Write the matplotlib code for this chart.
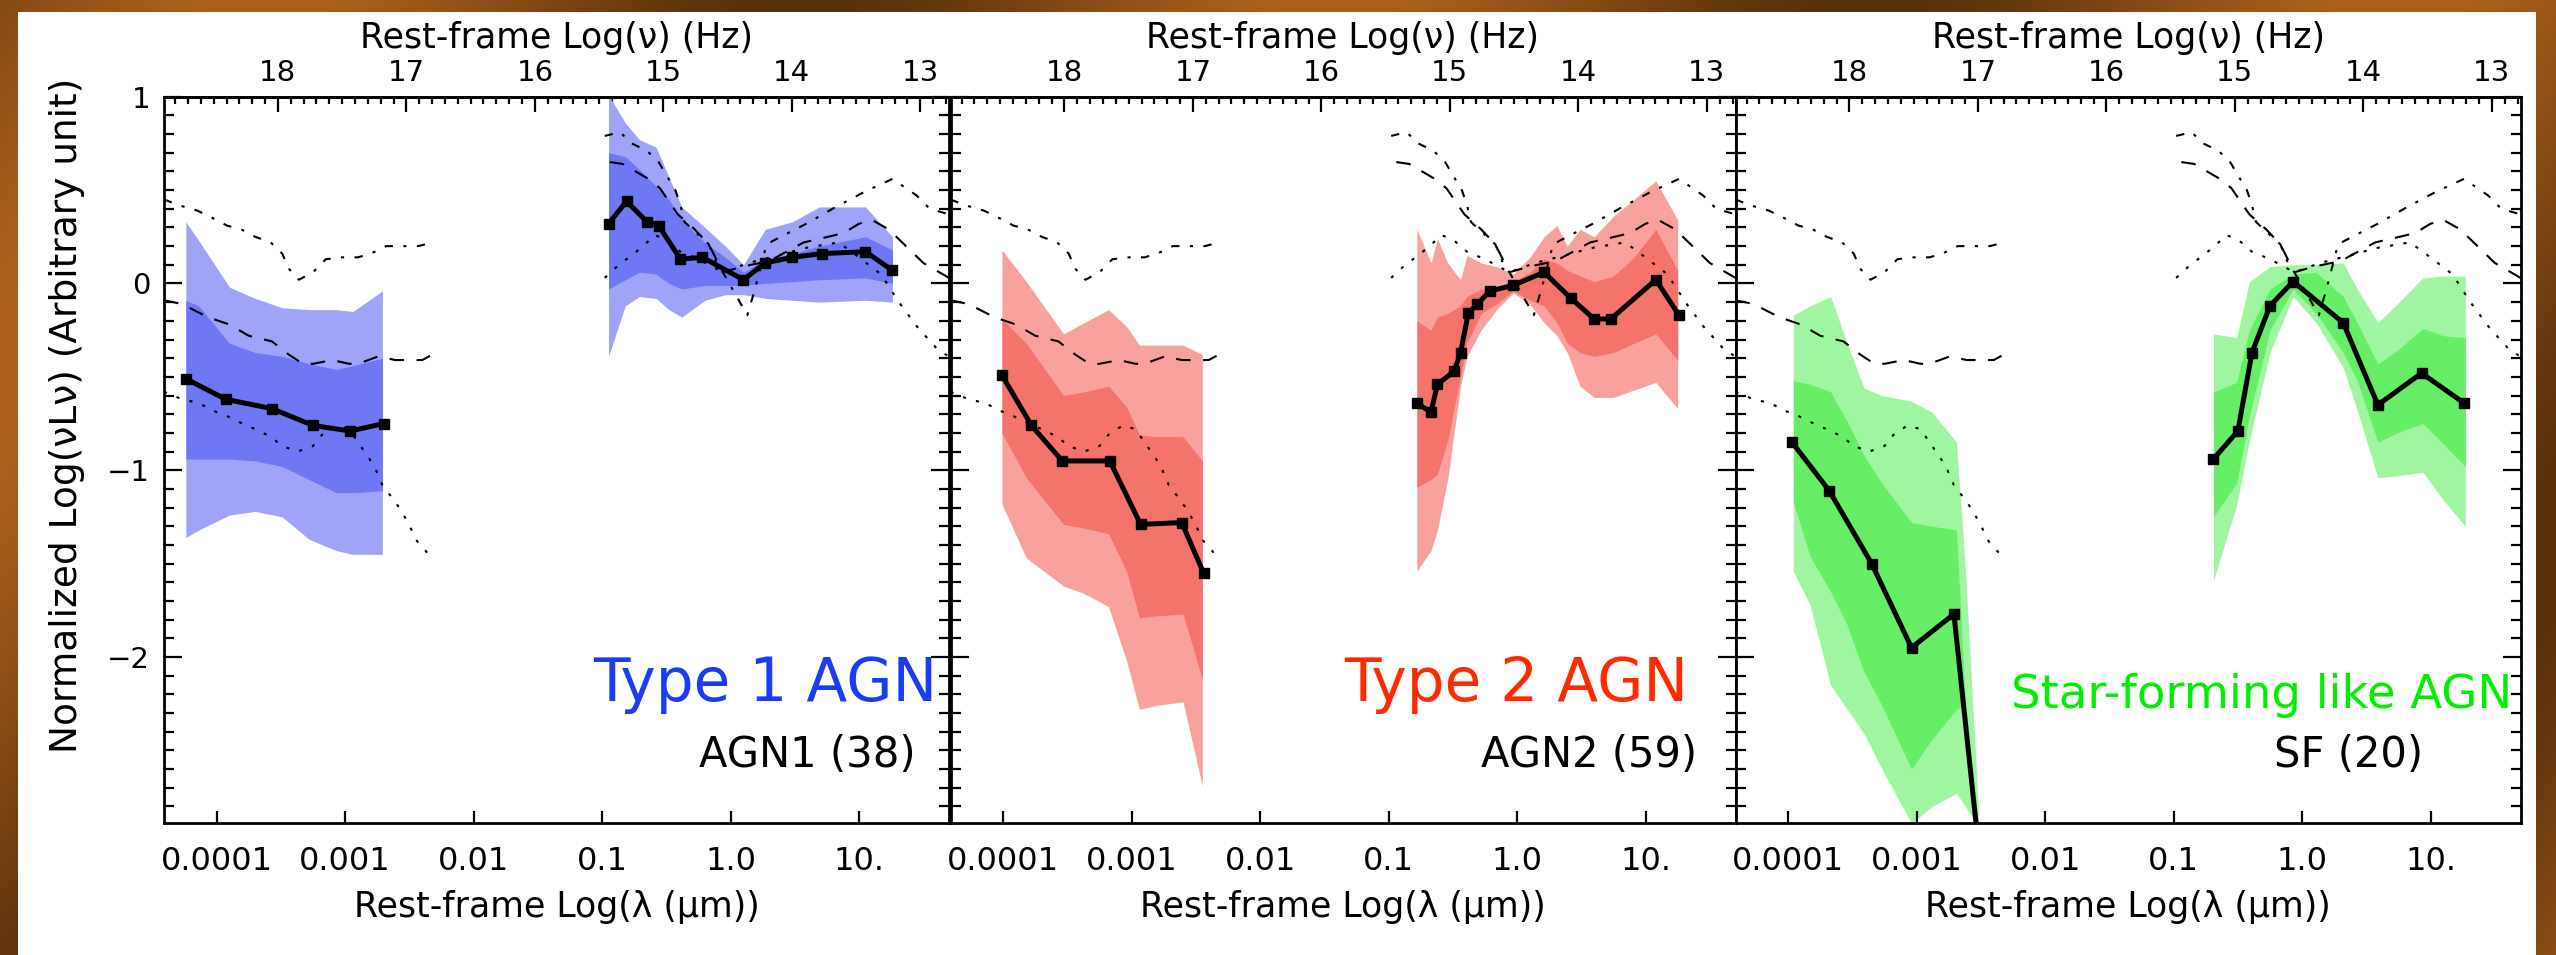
"""
Mean rest-frame SEDs of AGN1 / AGN2 / SF-like AGN with 1 and 2 sigma bands,
reference templates overplotted. Three panels sharing the y axis.
"""
import numpy as np
import matplotlib.pyplot as plt
from matplotlib.ticker import MultipleLocator, NullLocator

plt.rcParams['font.family'] = ['DejaVu Sans']

# x = rest-frame log(lambda / micron), y = normalised log(nu L_nu)

# ---- reference templates (same in every panel) ----
tx_a_x = [-4.41, -4.30, -4.15, -4.03, -3.92, -3.81, -3.70, -3.58, -3.49, -3.44, -3.36, -3.25,
          -3.15, -3.02, -2.90, -2.80, -2.68, -2.56, -2.43, -2.32]
tx_a_y = [0.45, 0.42, 0.39, 0.35, 0.31, 0.29, 0.25, 0.22, 0.16, 0.08, 0.02, 0.06,
          0.13, 0.14, 0.14, 0.16, 0.20, 0.20, 0.20, 0.22]
tx_b_x = [-4.41, -4.27, -4.07, -3.90, -3.75, -3.57, -3.44, -3.33, -3.25, -3.10, -2.97, -2.90,
          -2.74, -2.61, -2.40, -2.32]
tx_b_y = [-0.09, -0.11, -0.18, -0.22, -0.28, -0.31, -0.38, -0.43, -0.43, -0.41, -0.43, -0.43,
          -0.39, -0.41, -0.41, -0.38]
tx_c_x = [-4.41, -4.27, -4.14, -4.03, -3.92, -3.80, -3.70, -3.58, -3.49, -3.37, -3.25, -3.18,
          -3.07, -2.97, -2.89, -2.81, -2.76, -2.71, -2.62, -2.56, -2.49, -2.44, -2.35]
tx_c_y = [-0.58, -0.62, -0.64, -0.68, -0.71, -0.75, -0.78, -0.82, -0.87, -0.90, -0.87, -0.81,
          -0.76, -0.78, -0.86, -0.94, -1.00, -1.08, -1.16, -1.22, -1.31, -1.38, -1.45]

to_a_x = [-0.98, -0.86, -0.77, -0.65, -0.56, -0.50, -0.43, -0.39, -0.36, -0.25, -0.17, -0.11,
          -0.06, 0.13, 0.19, 0.28, 0.39, 0.59, 0.82, 1.04, 1.26, 1.45, 1.55, 1.70]
to_a_y = [0.79, 0.81, 0.75, 0.71, 0.65, 0.58, 0.50, 0.42, 0.33, 0.26, 0.21, 0.11,
          0.06, -0.17, -0.03, 0.21, 0.25, 0.32, 0.41, 0.49, 0.56, 0.47, 0.40, 0.37]
to_b_x = [-0.94, -0.84, -0.64, -0.55, -0.41, -0.28, -0.17, -0.06, 0.09, 0.30, 0.57, 0.76,
          0.88, 1.00, 1.10, 1.23, 1.50, 1.70]
to_b_y = [0.65, 0.64, 0.56, 0.51, 0.37, 0.29, 0.21, 0.06, 0.09, 0.12, 0.22, 0.25,
          0.27, 0.32, 0.34, 0.29, 0.11, 0.03]
to_c_x = [-0.98, -0.87, -0.77, -0.68, -0.59, -0.49, -0.39, -0.25, -0.06, 0.14, 0.37, 0.58,
          0.84, 0.96, 1.17, 1.31, 1.45, 1.62, 1.70]
to_c_y = [0.03, 0.10, 0.15, 0.20, 0.26, 0.23, 0.17, 0.13, 0.06, 0.11, 0.15, 0.19,
          0.22, 0.16, 0.05, -0.10, -0.23, -0.36, -0.39]

# ---- AGN1 ----
agn1_xr_x = [-4.24, -3.93, -3.57, -3.25, -2.96, -2.70]
agn1_xr_y = [-0.51, -0.62, -0.67, -0.76, -0.79, -0.75]
agn1_xr_bx = [-4.24, -4.14, -3.90, -3.70, -3.49, -3.28, -3.07, -2.94, -2.71]
agn1_xr_lt = [0.33, 0.23, -0.02, -0.08, -0.13, -0.14, -0.14, -0.15, -0.04]
agn1_xr_dt = [-0.09, -0.12, -0.32, -0.37, -0.39, -0.43, -0.46, -0.44, -0.40]
agn1_xr_db = [-0.94, -0.94, -0.94, -0.95, -0.98, -1.05, -1.12, -1.12, -1.11]
agn1_xr_lb = [-1.36, -1.32, -1.24, -1.22, -1.25, -1.37, -1.43, -1.45, -1.45]

agn1_op_x = [-0.95, -0.81, -0.65, -0.56, -0.39, -0.22, 0.10, 0.27, 0.48, 0.71, 1.05, 1.26]
agn1_op_y = [0.32, 0.44, 0.33, 0.31, 0.13, 0.14, 0.02, 0.11, 0.14, 0.16, 0.17, 0.07]
agn1_op_bx = [-0.95, -0.82, -0.71, -0.58, -0.48, -0.38, -0.20, -0.04, 0.10, 0.27, 0.48, 0.69, 1.05, 1.26]
agn1_op_lt = [1.01, 0.86, 0.77, 0.73, 0.57, 0.41, 0.30, 0.20, 0.10, 0.29, 0.33, 0.41, 0.41, 0.25]
agn1_op_dt = [0.70, 0.68, 0.61, 0.52, 0.45, 0.34, 0.22, 0.14, 0.06, 0.13, 0.16, 0.20, 0.25, 0.18]
agn1_op_db = [-0.03, 0.02, 0.06, 0.05, 0.00, -0.03, -0.01, -0.01, -0.01, 0.00, 0.01, 0.02, 0.03, 0.00]
agn1_op_lb = [-0.39, -0.12, -0.07, -0.08, -0.14, -0.18, -0.09, -0.06, -0.06, -0.08, -0.09, -0.10, -0.09, -0.10]

# ---- AGN2 ----
agn2_xr_x = [-4.01, -3.78, -3.54, -3.17, -2.93, -2.61, -2.44]
agn2_xr_y = [-0.49, -0.76, -0.95, -0.95, -1.29, -1.28, -1.55]
agn2_xr_bx = [-4.01, -3.82, -3.53, -3.37, -3.18, -3.04, -2.94, -2.82, -2.60, -2.45]
agn2_xr_lt = [0.18, 0.01, -0.27, -0.21, -0.14, -0.23, -0.33, -0.33, -0.33, -0.38]
agn2_xr_dt = [-0.19, -0.32, -0.60, -0.58, -0.55, -0.66, -0.81, -0.82, -0.82, -0.95]
agn2_xr_db = [-0.80, -1.04, -1.29, -1.31, -1.34, -1.54, -1.79, -1.78, -1.77, -2.12]
agn2_xr_lb = [-1.18, -1.47, -1.62, -1.66, -1.73, -2.02, -2.28, -2.26, -2.24, -2.69]

agn2_op_x = [-0.78, -0.67, -0.62, -0.49, -0.44, -0.38, -0.31, -0.21, -0.03, 0.21, 0.42, 0.60, 0.73, 1.08, 1.26]
agn2_op_y = [-0.64, -0.69, -0.54, -0.47, -0.37, -0.16, -0.11, -0.04, -0.01, 0.06, -0.08, -0.19, -0.19, 0.02, -0.17]
agn2_op_bx = [-0.78, -0.67, -0.62, -0.54, -0.44, -0.39, -0.28, -0.16, -0.03, 0.10, 0.21, 0.31, 0.39,
              0.49, 0.60, 0.75, 0.91, 1.08, 1.25]
agn2_op_lt = [0.29, 0.11, 0.24, 0.11, 0.02, 0.15, 0.11, 0.09, 0.05, 0.14, 0.25, 0.31, 0.20,
              0.29, 0.25, 0.36, 0.45, 0.55, 0.34]
agn2_op_dt = [-0.20, -0.25, -0.18, -0.16, -0.12, -0.07, -0.03, -0.02, 0.01, 0.06, 0.13, 0.11, 0.07,
              0.04, 0.01, 0.04, 0.14, 0.29, 0.07]
agn2_op_db = [-1.09, -1.05, -1.02, -0.84, -0.50, -0.32, -0.16, -0.11, -0.04, -0.09, -0.12, -0.21, -0.32,
              -0.37, -0.39, -0.37, -0.32, -0.27, -0.41]
agn2_op_lb = [-1.54, -1.43, -1.32, -1.05, -0.55, -0.39, -0.25, -0.14, -0.05, -0.11, -0.21, -0.28, -0.37,
              -0.55, -0.61, -0.61, -0.57, -0.53, -0.67]

# ---- SF-like ----
sf_xr_x = [-3.97, -3.68, -3.35, -3.04, -2.71, -2.49]
sf_xr_y = [-0.85, -1.11, -1.50, -1.95, -1.77, -3.20]
sf_xr_bx = [-3.96, -3.83, -3.67, -3.54, -3.41, -3.27, -3.04, -2.88, -2.69, -2.62, -2.52]
sf_xr_lt = [-0.17, -0.12, -0.07, -0.32, -0.56, -0.60, -0.63, -0.69, -0.85, -1.54, -2.80]
sf_xr_dt = [-0.52, -0.54, -0.58, -0.74, -0.92, -1.07, -1.28, -1.30, -1.32, -2.26, -2.80]
sf_xr_db = [-1.17, -1.46, -1.65, -1.83, -2.08, -2.26, -2.60, -2.44, -2.28, -2.26, -2.80]
sf_xr_lb = [-1.54, -1.72, -2.15, -2.28, -2.41, -2.60, -2.89, -2.80, -2.73, -2.80, -2.91]

sf_op_x = [-0.69, -0.50, -0.39, -0.25, -0.07, 0.32, 0.59, 0.93, 1.26]
sf_op_y = [-0.94, -0.79, -0.37, -0.12, 0.01, -0.21, -0.65, -0.48, -0.64]
sf_op_bx = [-0.69, -0.51, -0.41, -0.25, -0.07, 0.11, 0.32, 0.43, 0.59, 0.74, 0.94, 1.10, 1.27]
sf_op_lt = [-0.27, -0.29, 0.01, 0.09, 0.10, 0.10, 0.11, -0.03, -0.21, -0.11, 0.03, 0.04, 0.04]
sf_op_dt = [-0.58, -0.53, -0.25, -0.03, 0.05, 0.06, -0.07, -0.21, -0.43, -0.36, -0.24, -0.28, -0.29]
sf_op_db = [-1.25, -1.07, -0.71, -0.25, -0.03, -0.16, -0.37, -0.52, -0.85, -0.80, -0.75, -0.86, -0.98]
sf_op_lb = [-1.59, -1.19, -0.84, -0.37, -0.07, -0.21, -0.45, -0.68, -1.04, -1.03, -1.01, -1.16, -1.30]

xtick_pos = [-4, -3, -2, -1, 0, 1]
xtick_lab = ['0.0001', '0.001', '0.01', '0.1', '1.0', '10.']
nutick_pos = [13, 14, 15, 16, 17, 18]
LOG_C = 14.4768  # log10(c in micron/s)

panels = [
    dict(segs=[(agn1_xr_x, agn1_xr_y, agn1_xr_bx, agn1_xr_lt, agn1_xr_dt, agn1_xr_db, agn1_xr_lb),
               (agn1_op_x, agn1_op_y, agn1_op_bx, agn1_op_lt, agn1_op_dt, agn1_op_db, agn1_op_lb)],
         light='#a0a4f8', dark='#6e78f4', tcol='#1a3cf5', title='Type 1 AGN', tsize=43,
         tpos=(0.985, 0.167), name='AGN1 (38)', npos=(0.957, 0.077)),
    dict(segs=[(agn2_xr_x, agn2_xr_y, agn2_xr_bx, agn2_xr_lt, agn2_xr_dt, agn2_xr_db, agn2_xr_lb),
               (agn2_op_x, agn2_op_y, agn2_op_bx, agn2_op_lt, agn2_op_dt, agn2_op_db, agn2_op_lb)],
         light='#f8a19d', dark='#f4736b', tcol='#ff2a00', title='Type 2 AGN', tsize=43,
         tpos=(0.940, 0.167), name='AGN2 (59)', npos=(0.951, 0.077)),
    dict(segs=[(sf_xr_x, sf_xr_y, sf_xr_bx, sf_xr_lt, sf_xr_dt, sf_xr_db, sf_xr_lb),
               (sf_op_x, sf_op_y, sf_op_bx, sf_op_lt, sf_op_dt, sf_op_db, sf_op_lb)],
         light='#a0f5a0', dark='#66ee66', tcol='#00ee00', title='Star-forming like AGN', tsize=33.5,
         tpos=(0.990, 0.158), name='SF (20)', npos=(0.876, 0.077)),
]

templates = [(tx_a_x, tx_a_y, (0, (4, 5, 1.5, 5))), (tx_b_x, tx_b_y, (0, (7, 6))),
             (tx_c_x, tx_c_y, (0, (1.5, 5))),
             (to_a_x, to_a_y, (0, (4, 5, 1.5, 5))), (to_b_x, to_b_y, (0, (7, 6))),
             (to_c_x, to_c_y, (0, (1.5, 5)))]

W, H = 2556, 955
fig = plt.figure(figsize=(W / 100, H / 100), dpi=100)

# brown wooden frame around the slide
yy, xx = np.mgrid[0:H, 0:W]
bg = np.ones((H, W, 3))
frame = (yy < 13) | (xx < 18) | (xx > W - 21)
tone = 0.5 + 0.5 * np.sin(xx / 170.0 + yy / 240.0)
c_dark = np.array([0.35, 0.19, 0.05])
c_light = np.array([0.68, 0.38, 0.11])
col = c_dark + (c_light - c_dark) * tone[..., None]
bg[frame] = col[frame]
bgax = fig.add_axes([0, 0, 1, 1], zorder=-10)
bgax.imshow(bg, aspect='auto', interpolation='bilinear')
bgax.axis('off')

ax_left = [164, 950.5, 1735.5]
ax_w = 785
ax_bottom = (H - 822.7) / H
ax_h = 726 / H

for i, p in enumerate(panels):
    ax = fig.add_axes([ax_left[i] / W, ax_bottom, ax_w / W, ax_h])
    ax.set_xlim(-4.41, 1.70)
    ax.set_ylim(-2.887, 1.0)

    for mx, my, bx, lt, dt, db, lb in p['segs']:
        ax.fill_between(bx, lb, lt, color=p['light'], lw=0, zorder=1)
        ax.fill_between(bx, db, dt, color=p['dark'], lw=0, zorder=2)
    for tx, ty, ls in templates:
        ax.plot(tx, ty, color='black', lw=1.5, linestyle=ls, zorder=3)
    for mx, my, bx, lt, dt, db, lb in p['segs']:
        ax.plot(mx, my, color='black', lw=3.6, marker='s', ms=7.5, zorder=4)

    for s in ax.spines.values():
        s.set_linewidth(2.0)

    ax.set_xticks(xtick_pos)
    ax.set_xticklabels(xtick_lab)
    ax.xaxis.set_minor_locator(NullLocator())
    ax.tick_params(axis='x', which='major', direction='in', top=False, bottom=True,
                   length=8.5, width=1.6, pad=17, labelsize=23)

    ax.set_yticks([-2, -1, 0, 1])
    ax.yaxis.set_minor_locator(MultipleLocator(0.1))
    ax.tick_params(axis='y', which='both', direction='in', left=True, right=True, width=1.6,
                   labelsize=21, pad=10, labelleft=(i == 0))
    ax.tick_params(axis='y', which='major', length=13)
    ax.tick_params(axis='y', which='minor', length=7)

    top = ax.secondary_xaxis('top', functions=(lambda v: LOG_C - v, lambda v: LOG_C - v))
    top.set_xticks(nutick_pos)
    top.set_xticklabels([str(v) for v in nutick_pos])
    top.xaxis.set_minor_locator(MultipleLocator(0.1))
    top.tick_params(which='both', direction='in', width=1.6, labelsize=21, pad=7)
    top.tick_params(which='major', length=11)
    top.tick_params(which='minor', length=5)
    top.spines['top'].set_linewidth(2.0)

    ax.text(p['tpos'][0], p['tpos'][1], p['title'], transform=ax.transAxes, ha='right',
            va='baseline', color=p['tcol'], fontsize=p['tsize'])
    ax.text(p['npos'][0], p['npos'][1], p['name'], transform=ax.transAxes, ha='right',
            va='baseline', color='black', fontsize=30)

    xc = (ax_left[i] + ax_w / 2) / W
    fig.text(xc, 1 - 38 / H, 'Rest-frame Log(ν) (Hz)', ha='center', va='center', fontsize=25)
    fig.text(xc, 1 - 907 / H, 'Rest-frame Log(λ (μm))', ha='center', va='center', fontsize=25)

fig.text(67 / W, 1 - 415 / H, 'Normalized Log(νLν) (Arbitrary unit)', rotation=90,
         ha='center', va='center', fontsize=27)

fig.savefig('out.png', dpi=100)
